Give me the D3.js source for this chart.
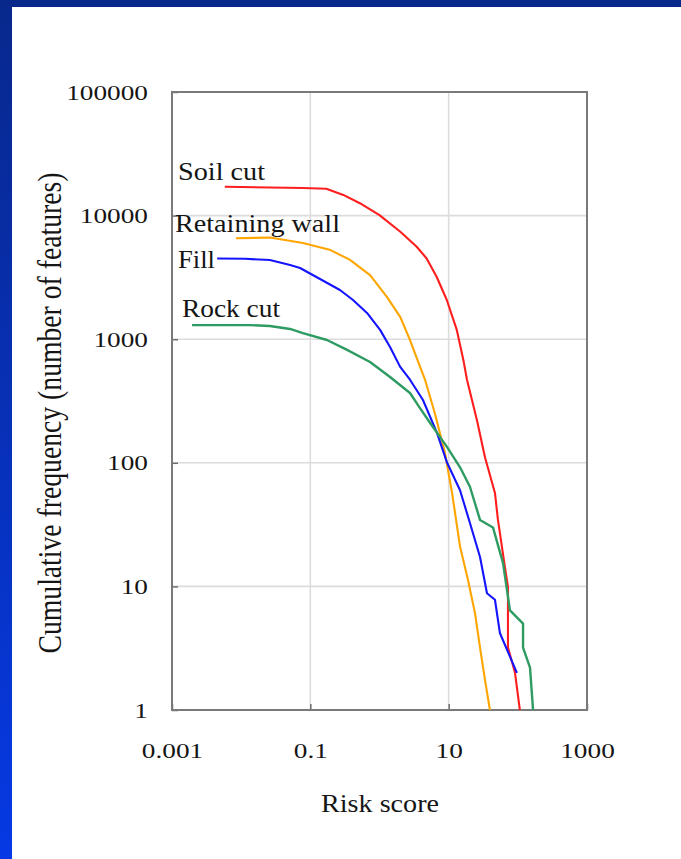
<!DOCTYPE html>
<html>
<head>
<meta charset="utf-8">
<script src="https://cdn.jsdelivr.net/npm/d3@7"></script>
<style>
  html, body { margin: 0; padding: 0; background: #fff; }
  svg { display: block; }
  text { font-family: "Liberation Serif", "Times New Roman", serif; fill: #151515; }
</style>
</head>
<body>
<svg id="chart" width="681" height="859"></svg>
<script>
// ---- data ----
const seriesNames = ["Soil cut", "Retaining wall", "Fill", "Rock cut"];
const seriesColors = ["#ff1e1e", "#ffa500", "#1414ff", "#2e9b63"];

const soilCut = [[0.0058,17100],[0.078,16700],[0.17,16500],[0.30,14700],[0.52,12600],[1.0,10100],[2.0,7400],[3.45,5600],[4.8,4500],[6.7,3200],[9.4,2075],[13.1,1190],[16.3,680],[18.4,470],[25.7,220],[33.5,111],[46.7,57],[51.6,34.5],[65,14.4],[72,9.9],[72,3.2],[91,2],[107,1]];
const retainingWall = [[0.0084,6550],[0.026,6650],[0.078,6000],[0.19,5300],[0.37,4400],[0.73,3300],[1.28,2200],[2.0,1510],[2.76,985],[3.85,600],[4.55,470],[6.3,253],[8.85,120],[11.2,57],[14.6,21],[19,11.3],[24,6.1],[28.4,3.2],[33.5,1.75],[39.5,1]];
const fill = [[0.0045,4500],[0.0114,4470],[0.026,4370],[0.051,3980],[0.071,3770],[0.138,3070],[0.268,2500],[0.414,2075],[0.66,1630],[1.02,1190],[1.42,865],[1.98,600],[2.76,470],[4.25,322],[6.8,174],[9.5,100],[14.6,60],[20.3,32.6],[28.4,17.3],[35.8,8.8],[46.7,7.8],[55,4.2],[77,2.7],[97,2]];
const rockCut = [[0.00195,1300],[0.0134,1300],[0.026,1280],[0.051,1210],[0.078,1120],[0.174,985],[0.34,820],[0.73,654],[1.42,494],[2.76,367],[3.85,277],[5.4,210],[9.5,134],[14.6,92],[20.3,64],[28.4,34.5],[43.7,30],[61,15.5],[77,6.4],[119,5],[119,3.2],[150,2.2],[166,1]];

const xTickValues = [0.001, 0.1, 10, 1000];
const xTickLabels = ["0.001", "0.1", "10", "1000"];
const yTickValues = [1, 10, 100, 1000, 10000, 100000];
const yTickLabels = ["1", "10", "100", "1000", "10000", "100000"];
const xGridValues = [0.1, 10];
const yGridValues = [10, 100, 1000, 10000];

const xTitle = "Risk score";
const yTitle = "Cumulative frequency (number of features)";

// ---- layout ----
const W = 681, H = 859;
const plot = { left: 172, right: 587, top: 92, bottom: 710 };

const svg = d3.select("#chart");

// background frame
const defs = svg.append("defs");
const grad = defs.append("linearGradient").attr("id", "leftband")
  .attr("x1", 0).attr("y1", 0).attr("x2", 0).attr("y2", 1);
grad.append("stop").attr("offset", "0%").attr("stop-color", "#08288c");
grad.append("stop").attr("offset", "100%").attr("stop-color", "#0639e4");

svg.append("rect").attr("x", 0).attr("y", 0).attr("width", W).attr("height", H).attr("fill", "#ffffff");
svg.append("rect").attr("x", 0).attr("y", 0).attr("width", 12).attr("height", H).attr("fill", "url(#leftband)");
svg.append("rect").attr("x", 0).attr("y", 0).attr("width", W).attr("height", 7).attr("fill", "#08288c");

const x = d3.scaleLog().domain([0.001, 1000]).range([plot.left, plot.right]);
const y = d3.scaleLog().domain([1, 100000]).range([plot.bottom, plot.top]);

// grid
const g = svg.append("g");
g.selectAll("line.gx").data(xGridValues).join("line")
  .attr("x1", d => x(d)).attr("x2", d => x(d))
  .attr("y1", plot.top).attr("y2", plot.bottom)
  .attr("stroke", "#dcdcdc").attr("stroke-width", 1.6);
g.selectAll("line.gy").data(yGridValues).join("line")
  .attr("y1", d => y(d)).attr("y2", d => y(d))
  .attr("x1", plot.left).attr("x2", plot.right)
  .attr("stroke", "#dcdcdc").attr("stroke-width", 1.6);

// axes (ticks inward)
const SX = 1.3;
const xAxis = d3.axisBottom(x).tickValues(xTickValues).tickSize(-6).tickPadding(0)
  .tickFormat((d, i) => xTickLabels[i]);
const yAxis = d3.axisLeft(y).tickValues(yTickValues).tickSize(-6).tickPadding(0)
  .tickFormat((d, i) => yTickLabels[i]);

const gx = svg.append("g").attr("transform", `translate(0,${plot.bottom})`).call(xAxis);
const gy = svg.append("g").attr("transform", `translate(${plot.left},0)`).call(yAxis);
[gx, gy].forEach(a => {
  a.attr("font-family", null).attr("font-size", null);
  a.select(".domain").remove();
  a.selectAll(".tick line").attr("stroke", "#6e6e6e").attr("stroke-width", 1.5);
  a.selectAll(".tick text").attr("font-size", 21).attr("fill", "#151515")
    .style("font-family", '"Liberation Serif", "Times New Roman", serif');
});
gx.selectAll(".tick text").attr("y", 0).attr("dy", null)
  .attr("transform", `translate(0,48) scale(${SX},1)`);
gy.selectAll(".tick text").attr("x", 0).attr("dy", "0.34em")
  .attr("transform", `translate(-24,0) scale(${SX},1)`);

// frame
svg.append("rect")
  .attr("x", plot.left).attr("y", plot.top)
  .attr("width", plot.right - plot.left).attr("height", plot.bottom - plot.top)
  .attr("fill", "none").attr("stroke", "#7a7a7a").attr("stroke-width", 2);

// series
const allSeries = [soilCut, retainingWall, fill, rockCut];
const line = d3.line().x(d => x(d[0])).y(d => y(d[1]));
const plotArea = svg.append("g");
allSeries.forEach((s, i) => {
  plotArea.append("path").datum(s)
    .attr("d", line)
    .attr("fill", "none")
    .attr("stroke", seriesColors[i])
    .attr("stroke-width", i === 3 ? 2.4 : 2.1)
    .attr("stroke-linejoin", "round");
});

// series labels
const labelPos = [
  { x: 178, y: 180, w: 87 },
  { x: 175, y: 232, w: 165 },
  { x: 178, y: 268, w: 37 },
  { x: 182, y: 317, w: 98 }
];
seriesNames.forEach((name, i) => {
  svg.append("text")
    .attr("x", labelPos[i].x).attr("y", labelPos[i].y)
    .attr("font-size", 26)
    .attr("textLength", labelPos[i].w)
    .attr("lengthAdjust", "spacingAndGlyphs")
    .text(name);
});

// axis titles
svg.append("text")
  .attr("x", 380).attr("y", 812)
  .attr("text-anchor", "middle")
  .attr("font-size", 26)
  .attr("textLength", 118)
  .attr("lengthAdjust", "spacingAndGlyphs")
  .text(xTitle);

svg.append("text")
  .attr("transform", "translate(61,413) rotate(-90)")
  .attr("text-anchor", "middle")
  .attr("font-size", 34)
  .attr("textLength", 481)
  .attr("lengthAdjust", "spacingAndGlyphs")
  .text(yTitle);
</script>
</body>
</html>
